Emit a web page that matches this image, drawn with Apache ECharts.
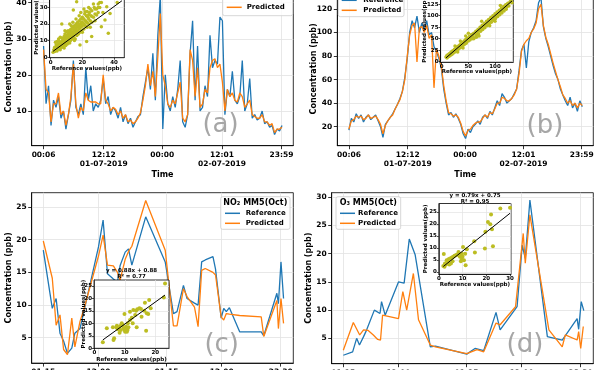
<!DOCTYPE html>
<html><head><meta charset="utf-8">
<script src="https://cdn.jsdelivr.net/npm/echarts@6/dist/echarts.min.js"></script>
<style>html,body{margin:0;padding:0;background:#fff}#c{width:600px;height:370px}</style>
</head><body><div id="c"></div>
<script>
// ---------------- DATA ----------------
// panels (a),(b): half-hour samples starting at hour 0.1 (00:06, day 1)
const abStart = 0.1, abStep = 0.5;
const aRef = [28,12,17,6,13,11,14,8,10,5, 9,13,24,11,9,12,9,22,13,17, 10,12,11,13,19,12,14,9,11,10, 8,11,7,9,6.5,8,5.5,7,8.5,9, 14,18,22,16,26,13,31,42,5,20, 12,10,14,11,16,24,7,5.5,9,26, 35,13,28,10,11,17,14,31,22,24, 23,36,35,9,16,14,21,13,12,14, 24,10,12,19,8,9,7.5,8,10,6.5, 7,5.5,6,3.5,5,4.5,6];
const aPred = [27,16,15,7,12,12,15,9,10,6, 9,14,23,12,8,11,10,15,13,12.5, 12.5,12.5,12,12,20,13,12,10,11,10.5, 9,10,8,9,7,7.5,6.5,7,8,9.5, 13,17,23,17,21,14,25,37,20,17, 12,11,13,12,15,18,8,7,9,27, 24,14,22,11,12,16,15,22,24,24.5, 22,23,18,10,16,14,15,13,12.5,15, 14,11,12,13,9,8.5,8,8,9,7, 7,6,6.5,4,5,5,5.5];
const bRef = [17,27,24,31,27,30,24,28,30,26, 28,30,25,20,11,22,25,28,31,35, 39,44,50,62,78,100,110,104,114,100, 108,102,110,98,100,88,84,78,70,52, 40,30,32,28,31,27,22,14,10,18, 15,20,22,25,22,28,30,27,33,30, 36,42,38,48,45,40,42,44,48,52, 68,85,90,70,92,100,104,110,125,130, 105,95,88,80,72,65,60,52,47,42, 38,45,36,40,33,42,37];
const bPred = [18,25,26,29,28,29,26,27,30,27, 28,29,26,22,14,21,25,28,30,35, 39,43,50,60,80,98,106,108,75,104, 105,100,106,95,98,53,86,80,72,55, 42,32,31,29,30,28,23,16,12,17, 18,21,23,24,24,27,30,28,32,31, 35,40,40,45,44,42,42,44,47,52, 65,84,90,93,95,100,103,108,120,124, 106,96,90,82,74,67,60,54,47,44, 40,42,38,40,36,40,38];
const abTickHours = [0.1, 12.2, 24.0, 36.017, 47.983];
const abTickLabels = ['00:06', '12:12\n01-07-2019', '00:00', '12:01\n02-07-2019', '23:59'];

// panel (c) NO2 MM5(Oct)
const cTimes = [1.25,3.0,3.75,4.5,5.2,5.95,6.8,7.4,8.4,9.1,12.0,12.9,13.75,14.9,15.7,16.2,17.2,17.85,18.5,21.2,25.0,26.6,27.3,28.55,29.25,30.7,31.4,32.1,32.8,34.3,34.8,35.9,36.4,36.9,37.5,39.5,43.7,44.2,46.75,47.05,47.55,48.05];
const cRef  = [18.4,9.5,11.0,5.7,4.5,2.6,3.4,5.7,6.4,8.8,18.9,23.0,14.8,14.0,13.5,16.0,18.1,18.6,16.1,23.5,16.6,8.7,9.0,13.0,11.0,10.3,10.0,16.6,16.9,17.4,15.5,8.0,9.5,9.0,9.6,5.9,5.9,5.3,11.8,10.2,16.6,11.0];
const cPred = [19.8,14.1,6.9,8.5,3.2,2.4,8.0,3.6,7.5,9.2,17.5,20.7,16.1,16.0,15.0,13.8,17.0,18.2,19.0,26.0,18.4,6.8,6.8,12.5,11.3,9.7,6.7,15.3,15.6,15.0,14.6,8.2,7.7,8.7,8.6,8.4,8.2,5.2,10.7,6.4,11.0,7.2];
// panel (d) O3 MM5(Oct)
const dRefTimes = [1.25,3.07,3.85,4.4,5.2,5.8,7.3,8.4,8.7,9.4,12.0,13.1,14.1,15.25,18.2,19.2,25.3,26.9,28.6,31.0,31.8,35.1,36.1,36.7,37.6,41.0,43.9,46.8,47.1,47.6,48.1];
const dRef = [2.0,2.6,5.0,3.8,5.3,6.5,10.0,9.4,11.5,9.1,15.0,14.8,22.6,19.8,3.5,3.6,2.2,3.2,2.8,9.6,6.5,10.6,21.5,19.2,29.5,5.3,4.7,8.5,6.6,11.5,9.9];
const dPredTimes = [1.25,3.2,4.45,5.2,6.1,7.1,7.95,8.5,8.9,12.0,12.85,13.6,14.9,15.9,18.2,19.2,25.3,27.3,28.6,31.0,31.8,34.8,36.3,36.7,37.6,41.3,43.9,44.5,46.8,47.1,47.5,48.0];
const dPred = [2.9,7.8,5.6,6.5,6.4,5.6,4.8,4.7,9.1,8.5,13.3,10.0,16.5,8.3,3.8,3.5,2.3,3.0,2.6,7.7,7.4,10.6,23.6,18.3,26.9,6.5,3.5,5.6,4.7,6.2,3.2,7.1];
const cdTickHours = [1.25, 12.0, 25.25, 36.0, 47.5];
const cdTickLabels = ['01:15', '12:00', '01:15', '12:00', '23:30'];

// inset scatter: [reference, predicted]
const aScatter = [[2.5,3.5],[3,5],[3.5,4],[4,6],[4,3.8],[4.5,7],[5,5],[5,8],[5.5,6],[6,4.5],[6,7.5],[6.5,9],[7,6],[7,8],[7.5,10],[8,7],[8,9],[8,11],[8.5,5.5],[9,8],[9,10],[9,12],[9.5,7],[10,9],[10,11],[10,13],[10.5,8],[11,10],[11,12],[11,14],[11.5,9],[12,11],[12,13],[12,15],[12.5,10],[13,12],[13,14],[13,17],[13.5,11],[14,13],[14,15],[14,18],[14.5,12],[15,14],[15,16],[15,19],[15.5,11],[16,15],[16,17],[16,20],[16.5,13],[17,16],[17,18],[17,21],[17.5,14],[18,17],[18,19],[18,22],[18.5,15],[19,18],[19,20],[19,23],[19.5,16],[20,19],[20,21],[20,24],[21,17],[21,20],[21,23],[21.5,26],[22,19],[22,22],[22.5,25],[23,18],[23,21],[23.5,24],[24,20],[24,23],[24.5,27],[25,22],[25.5,25],[26,21],[26,28],[27,24],[27.5,30],[28,22],[28,26],[29,29],[29,25.4],[30,27],[30,32],[31,30],[32,18.4],[32,33],[34.3,22.4],[35.4,30.4],[36.4,14.4],[37.5,26.4],[7,20],[10,15.4],[14.3,28.4],[16.4,33.4],[21.7,27.4],[25.9,12.4],[22.7,9.4],[18.5,7.4],[3,9],[5,11],[12,20],[9,16],[6,12],[24,30],[42,33],[45,37],
  [1.5,3],[2,4.5],[2.5,6],[3.5,7.5],[4,9.5],[4.5,5],[5.5,9.5],[6.5,6],[7,11.5],[7.5,7.5],[8.5,12.5],[9,14],[9.5,11],[10.5,12],[11,16],[11.5,13],[12.5,16.5],[13,19],[13.5,15],[14,21],[14.5,16.5],[15.5,17.5],[16,23],[16.5,19],[17.5,20],[18,25],[19,27],[19.5,21],[20.5,23],[21,29],[22.5,21],[23,27.5],[24,25.5],[25,29],[26,24.5],[27,32],[28,29],[30,30],[31,33],[33,27],[20,15],[15,10],[12,8.5],[25,18]];
const bScatter = [[8,10],[10,8],[10,14],[12,11],[13,16],[14,12],[15,18],[16,14],[17,20],[18,15],[19,22],[20,17],[21,24],[22,19],[23,22],[24,27],[25,21],[26,25],[27,30],[28,24],[29,28],[30,33],[31,27],[32,30],[33,36],[34,30],[35,33],[36,39],[37,32],[38,36],[39,42],[40,35],[41,38],[42,45],[43,38],[44,41],[45,48],[46,40],[47,44],[48,51],[50,45],[51,48],[52,55],[53,47],[55,52],[56,59],[57,50],[58,56],[60,62],[61,52],[62,60],[64,66],[65,58],[66,63],[68,70],[69,60],[70,67],[72,75],[73,66],[74,71],[76,79],[77,70],[78,75],[80,83],[81,74],[82,79],[84,88],[85,78],[86,83],[88,92],[89,82],[90,87],[92,96],[93,86],[94,91],[96,100],[97,90],[98,95],[100,104],[101,94],[102,99],[104,108],[105,98],[106,103],[108,112],[109,102],[110,107],[112,116],[113,106],[114,111],[116,120],[117,110],[118,115],[120,124],[121,114],[122,119],[124,127],[126,121],[128,130],[130,133],[132,128],[60,50],[65,53],[70,56],[75,88],[45,56],[35,45],[25,34],[90,78],[100,88],[110,122],[50,62],[30,21],[40,30]];
const cScatter = [[2.8,2.4],[4.1,8.0],[6.3,3.3],[6.5,4.0],[6.1,8.4],[7.2,8.4],[7.9,8.0],[8.5,8.9],[8.7,7.3],[9.3,9.3],[9.6,8.0],[9.9,7.3],[10.1,6.6],[10.3,7.6],[10.7,6.6],[10.9,7.3],[11.2,8.4],[9.9,13.7],[11,10],[11.7,11.3],[12.3,12.2],[12.6,10],[13.4,13.3],[13.7,15.0],[14.1,15.6],[14.8,16],[15.3,15.7],[13.9,8.4],[16.6,18.2],[17.2,14.0],[17.7,13.7],[18.0,19.3],[18.5,16],[17.0,7.0],[15.5,12.6],[23.2,25.9],[22.8,20.3],[16.4,15.0],[7.4,9.0],[9.0,10.0],[8.3,6.2],[7.7,7.6],[10.4,8.6],[11.7,14.6],[12.8,15.3]];
const dScatter = [[1.9,2.5],[2.4,2.1],[3.0,3.1],[2.1,7.5],[3.3,4.9],[4.1,5.3],[4.7,5.6],[5.5,6.0],[6.1,6.3],[6.6,6.7],[7.2,6.9],[7.7,7.2],[4.4,3.1],[5.1,3.5],[8.3,8.3],[8.9,6.3],[9.3,4.4],[9.7,5.3],[10.0,6.3],[10.2,10.4],[10.6,4.9],[11.1,7.6],[11.3,2.8],[11.8,9.4],[9.7,7.6],[8.6,6.9],[14.9,12.8],[15.2,8.1],[19.4,9.7],[20.7,20.8],[21.7,19.9],[22.0,23.9],[22.4,17.8],[22.8,10.7],[19.6,16.7],[25.9,26.4],[30.0,26.7],[2.6,3.5],[3.9,4.2],[5.8,4.4]];
// regression fits [slope, intercept] and their labels
const aFit = [0.70, 2.5], bFit = [1.0, 0.2], cFit = [0.88, 0.88], dFit = [0.79, 0.75];
const cFitText = ['y = 0.88x + 0.88', 'R² = 0.77'];
const dFitText = ['y = 0.79x + 0.75', 'R² = 0.95'];
const seriesNames = ['Reference', 'Predicted'];
const cLegendTitle = 'NO₂ MM5(Oct)', dLegendTitle = 'O₃ MM5(Oct)';
const panelLetters = ['(a)', '(b)', '(c)', '(d)'];

// ---------------- CHART ----------------
const F = 'DejaVu Sans';
const BLUE = '#1f77b4', ORANGE = '#ff7f0e', OLIVE = '#bcbd22';
const GRIDC = '#e2e2e2';

const gridPos = [
  {left:31.7, top:-12, width:261.6, height:157.7},
  {left:337.3, top:-8, width:256, height:153.7},
  {left:31.7, top:192.7, width:261.6, height:170.4},
  {left:331.7, top:192.7, width:261.6, height:171},
  {left:49.5, top:-17, width:74.8, height:74.7},
  {left:440.5, top:-5, width:72.8, height:67},
  {left:94, top:280, width:75, height:68.3},
  {left:438.8, top:203.5, width:72.2, height:70.8}
];
const grid = gridPos.map((g, i) => Object.assign({}, g, {
  show: true, containLabel: false, outerBoundsMode: 'none',
  borderColor: '#000', borderWidth: 0.8,
  backgroundColor: i >= 4 ? '#fff' : 'transparent',
  z: i >= 4 ? 5 : 0
}));

function lab(ticks, labels, v) {
  let k = -1, best = 1e9;
  ticks.forEach((t, i) => { const d = Math.abs(t - v); if (d < best) { best = d; k = i; } });
  return best < 1e-3 ? labels[k] : '';
}
const txt = (size, weight) => ({fontFamily: F, fontSize: size, fontWeight: weight || 'bold', color: '#000'});

function mainX(gi, min, max, ticks, labels, name) {
  return {type: 'value', gridIndex: gi, min, max,
    axisLine: {show: true, onZero: false, lineStyle: {color: '#000', width: 0.8}},
    axisTick: {show: true, length: 3.5, customValues: ticks, lineStyle: {color: '#000', width: 0.8}},
    axisLabel: Object.assign({customValues: ticks, formatter: v => lab(ticks, labels, v), margin: 4.5, lineHeight: 9, hideOverlap: false}, txt(7.5)),
    splitLine: {show: true, lineStyle: {color: GRIDC, width: 0.8}},
    name: name, nameLocation: 'middle', nameGap: 25, nameMoveOverlap: false, nameTextStyle: txt(8)};
}
function mainY(gi, min, max, ticks) {
  return {type: 'value', gridIndex: gi, min, max,
    axisLine: {show: true, onZero: false, lineStyle: {color: '#000', width: 0.8}},
    axisTick: {show: true, length: 3.5, customValues: ticks, lineStyle: {color: '#000', width: 0.8}},
    axisLabel: Object.assign({customValues: ticks, margin: 5, hideOverlap: false}, txt(7.5)),
    splitLine: {show: true, lineStyle: {color: GRIDC, width: 0.8}},
    name: 'Concentration (ppb)', nameLocation: 'middle', nameGap: 19, nameMoveOverlap: false, nameTextStyle: txt(8)};
}
function insetX(gi, min, max, ticks, gap) {
  return {type: 'value', gridIndex: gi, min, max, z: 6,
    axisLine: {show: true, onZero: false, lineStyle: {color: '#000', width: 0.7}},
    axisTick: {show: true, length: 2, customValues: ticks, lineStyle: {color: '#000', width: 0.7}},
    axisLabel: Object.assign({customValues: ticks, margin: 1.5, hideOverlap: false}, txt(5.5)),
    splitLine: {show: true, lineStyle: {color: GRIDC, width: 0.7}},
    name: 'Reference values(ppb)', nameLocation: 'middle', nameGap: gap, nameMoveOverlap: false, nameTextStyle: txt(5.5)};
}
function insetY(gi, min, max, ticks, gap) {
  return {type: 'value', gridIndex: gi, min, max, z: 6,
    axisLine: {show: true, onZero: false, lineStyle: {color: '#000', width: 0.7}},
    axisTick: {show: true, length: 2, customValues: ticks, lineStyle: {color: '#000', width: 0.7}},
    axisLabel: Object.assign({customValues: ticks, margin: 2, hideOverlap: false}, txt(5.5)),
    splitLine: {show: true, lineStyle: {color: GRIDC, width: 0.7}},
    name: 'Predicted values(ppb)', nameLocation: 'middle', nameGap: gap, nameMoveOverlap: false, nameTextStyle: txt(5.5)};
}

const xAxis = [
  mainX(0, -2.29, 50.37, abTickHours, abTickLabels, 'Time'),
  mainX(1, -2.29, 50.37, abTickHours, abTickLabels, 'Time'),
  mainX(2, -1.01, 49.95, cdTickHours, cdTickLabels, ''),
  mainX(3, -1.01, 49.95, cdTickHours, cdTickLabels, ''),
  insetX(4, -0.76, 46.5, [0, 20, 40], 7.5),
  insetX(5, -2.25, 134.3, [0, 50, 100], 6.5),
  insetX(6, -0.1, 24.5, [0, 10, 20], 8),
  insetX(7, 0, 30.4, [0, 10, 20, 30], 7)
];
const yAxis = [
  mainY(0, 0.39, 44.07, [10, 20, 30, 40]),
  mainY(1, 3.86, 134.4, [20, 40, 60, 80, 100, 120]),
  mainY(2, 1.12, 27.19, [5, 10, 15, 20, 25]),
  mainY(3, 0.5, 30.82, [5, 10, 15, 20, 25, 30]),
  insetY(4, -0.3, 44.7, [0, 10, 20, 30, 40], 10),
  insetY(5, -0.65, 145, [0, 25, 50, 75, 100, 125], 12.5),
  insetY(6, 0, 27.3, [0, 5, 10, 15, 20, 25], 7.5),
  insetY(7, -1, 28.5, [0, 5, 10, 15, 20, 25], 10)
];

function lineS(idx, name, color, pts) {
  return {type: 'line', name, xAxisIndex: idx, yAxisIndex: idx, data: pts, showSymbol: false, symbol: 'none',
    lineStyle: {color, width: 1.3}, itemStyle: {color}, z: 2, animation: false};
}
const uniform = arr => arr.map((v, i) => [abStart + i * abStep, v]);
const paired = (t, v) => t.map((x, i) => [x, v[i]]);
function scatterS(idx, pts, size) {
  return {type: 'scatter', xAxisIndex: idx, yAxisIndex: idx, data: pts, symbolSize: size,
    itemStyle: {color: OLIVE, opacity: 1}, z: 7, animation: false};
}
function fitS(idx, pts, fit) {
  const xs = pts.map(p => p[0]);
  const x0 = Math.min(...xs), x1 = Math.max(...xs);
  return {type: 'line', xAxisIndex: idx, yAxisIndex: idx, data: [[x0, fit[0] * x0 + fit[1]], [x1, fit[0] * x1 + fit[1]]],
    showSymbol: false, symbol: 'none', lineStyle: {color: '#000', width: 1}, z: 8, animation: false};
}

const series = [
  lineS(0, seriesNames[0], BLUE, uniform(aRef)), lineS(0, seriesNames[1], ORANGE, uniform(aPred)),
  lineS(1, seriesNames[0], BLUE, uniform(bRef)), lineS(1, seriesNames[1], ORANGE, uniform(bPred)),
  lineS(2, seriesNames[0], BLUE, paired(cTimes, cRef)), lineS(2, seriesNames[1], ORANGE, paired(cTimes, cPred)),
  lineS(3, seriesNames[0], BLUE, paired(dRefTimes, dRef)), lineS(3, seriesNames[1], ORANGE, paired(dPredTimes, dPred)),
  scatterS(4, aScatter, 3.5), fitS(4, aScatter, aFit),
  scatterS(5, bScatter, 3.5), fitS(5, bScatter, bFit),
  scatterS(6, cScatter, 4), fitS(6, cScatter, cFit),
  scatterS(7, dScatter, 4), fitS(7, dScatter, dFit)
];

function legendEls(x, y, w, h, rows, handleX, textX, title, titleY) {
  const els = [{type: 'rect', shape: {x, y, width: w, height: h, r: 2},
    style: {fill: 'rgba(255,255,255,0.8)', stroke: '#cccccc', lineWidth: 0.8}, z: 50}];
  if (title) els.push({type: 'text', x: x + w / 2, y: titleY, z: 51,
    style: {text: title, fontFamily: F, fontSize: 8, fontWeight: 'bold', fill: '#000', align: 'center', verticalAlign: 'middle'}});
  rows.forEach(r => {
    els.push({type: 'line', shape: {x1: handleX, y1: r.y, x2: handleX + 15, y2: r.y}, style: {stroke: r.color, lineWidth: 1.5}, z: 51});
    els.push({type: 'text', x: textX, y: r.y, z: 51,
      style: {text: r.name, fontFamily: F, fontSize: 7, fontWeight: 'bold', fill: '#000', align: 'left', verticalAlign: 'middle'}});
  });
  return els;
}
const letter = (t, x, y) => ({type: 'text', x, y, z: 1,
  style: {text: t, fontFamily: F, fontSize: 26, fill: '#a6a6a6', align: 'center', verticalAlign: 'middle'}});
const fitLabel = (lines, x, y0) => lines.map((t, i) => ({type: 'text', x, y: y0 + i * 6, z: 20,
  style: {text: t, fontFamily: F, fontSize: 5.5, fontWeight: 'bold', fill: '#000', align: 'center', verticalAlign: 'middle'}}));

const graphic = [].concat(
  legendEls(222.7, -14, 70, 29.7, [{y: -2.2, color: BLUE, name: seriesNames[0]}, {y: 7.3, color: ORANGE, name: seriesNames[1]}], 226.7, 246.7),
  legendEls(338.3, -12, 65.7, 28.7, [{y: 0.3, color: BLUE, name: seriesNames[0]}, {y: 10.3, color: ORANGE, name: seriesNames[1]}], 341.7, 363.3),
  legendEls(220.7, 196.7, 69.3, 32.6, [{y: 213.3, color: BLUE, name: seriesNames[0]}, {y: 223.3, color: ORANGE, name: seriesNames[1]}], 225, 245.7, cLegendTitle, 203),
  legendEls(336, 196.7, 64.7, 32.6, [{y: 213.3, color: BLUE, name: seriesNames[0]}, {y: 223.3, color: ORANGE, name: seriesNames[1]}], 340, 358, dLegendTitle, 203),
  [letter(panelLetters[0], 220.5, 125), letter(panelLetters[1], 545, 126.7), letter(panelLetters[2], 221.7, 345), letter(panelLetters[3], 525, 345)],
  fitLabel(cFitText, 131.5, 271), fitLabel(dFitText, 475, 195.5)
);

const chart = echarts.init(document.getElementById('c'), null, {renderer: 'canvas', width: 600, height: 370});
chart.setOption({animation: false, backgroundColor: '#fff', grid, xAxis, yAxis, series, graphic: {elements: graphic}});
</script></body></html>
